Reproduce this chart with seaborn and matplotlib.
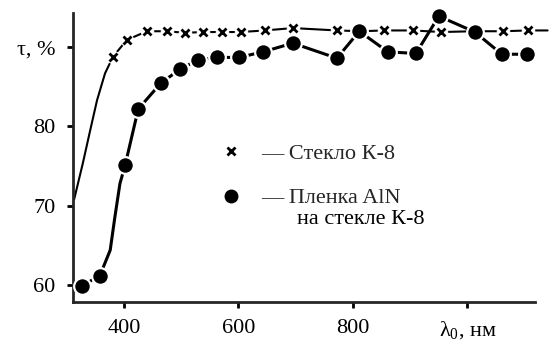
import matplotlib
matplotlib.use("Agg")
import matplotlib.pyplot as plt
from matplotlib.lines import Line2D
import seaborn as sns
import pandas as pd

# ---- data ----
glass_wl = [313, 328, 341, 353, 367, 381, 405, 440, 475, 507, 538, 571, 604, 646,
            695, 772, 814, 854, 905, 954, 1011, 1062, 1106, 1140]
glass_t = [70.8, 75.3, 79.5, 83.3, 86.7, 88.8, 90.9, 92.0, 92.0, 91.8, 91.9, 91.9, 91.9, 92.1,
           92.4, 92.1, 92.0, 92.1, 92.1, 91.9, 92.0, 92.0, 92.1, 92.1]
glass_marks = list(range(5, 23))

aln_wl = [327, 358, 376, 384, 393, 402, 425, 465, 498, 529, 562, 601, 643, 695,
          772, 811, 861, 910, 950, 1013, 1060, 1104]
aln_t = [59.9, 61.2, 64.4, 68.5, 72.8, 75.1, 82.2, 85.5, 87.2, 88.4, 88.7, 88.7, 89.4, 90.5,
         88.6, 92.0, 89.4, 89.2, 93.9, 91.9, 89.1, 89.1]
aln_marks = [0, 1] + list(range(5, 22))

x_ticks = [400, 600, 800, 1000]
x_ticklabels = ["400", "600", "800", "$\\mathregular{λ_0}$, нм"]
y_ticks = [60, 70, 80, 90]
y_ticklabels = ["60", "70", "80", "τ, %"]

label_glass = "— Стекло К-8"
label_aln = "— Пленка AlN"
label_aln_cont = "на стекле К-8"

# ---- style ----
sns.set_style("ticks")
plt.rcParams["font.family"] = ["Liberation Serif", "DejaVu Serif"]
plt.rcParams["mathtext.fontset"] = "custom"
plt.rcParams["mathtext.rm"] = "Liberation Serif"

fig = plt.figure(figsize=(5.5, 3.44), dpi=100)
ax = fig.add_axes([73 / 550, 42 / 344, 462 / 550, 289 / 344])

gdf = pd.DataFrame({"wl": glass_wl, "t": glass_t})
adf = pd.DataFrame({"wl": aln_wl, "t": aln_t})

# glass curve
sns.lineplot(data=gdf, x="wl", y="t", ax=ax, color="black", lw=1.5,
             sort=False, estimator=None, clip_on=False, zorder=2)
sns.lineplot(data=gdf, x="wl", y="t", ax=ax, color="white", lw=0, marker="o",
             markevery=glass_marks, ms=9, mec="white", mfc="white",
             sort=False, estimator=None, clip_on=False, zorder=3)
sns.lineplot(data=gdf, x="wl", y="t", ax=ax, color="black", lw=0, marker="x",
             markevery=glass_marks, ms=6, mew=2.0, mec="black",
             sort=False, estimator=None, clip_on=False, zorder=4)

# AlN film curve
sns.lineplot(data=adf, x="wl", y="t", ax=ax, color="black", lw=2.2, marker="o",
             markevery=aln_marks, ms=12, mfc="black", mec="white", mew=1.6,
             sort=False, estimator=None, clip_on=False, zorder=5)

ax.set_xlim(311, 1118)
ax.set_ylim(57.86, 94.3)
ax.set_xticks(x_ticks)
ax.set_xticklabels(x_ticklabels)
ax.set_yticks(y_ticks)
ax.set_yticklabels(y_ticklabels)
ax.set_xlabel("")
ax.set_ylabel("")

for s in ["top", "right"]:
    ax.spines[s].set_visible(False)
for s in ["left", "bottom"]:
    ax.spines[s].set_linewidth(2.0)
ax.tick_params(axis="both", direction="out", length=4.5, width=2.0,
               labelsize=16, pad=8, colors="black")

handles = [
    Line2D([], [], ls="", marker="x", ms=5.5, mew=2.0, color="black"),
    Line2D([], [], ls="", marker="o", ms=9, color="black"),
]
leg = ax.legend(handles, [label_glass, label_aln], loc="upper left",
                bbox_to_anchor=((222 - 73) / 462, (302 - 143) / 289),
                frameon=False, fontsize=16, handlelength=0.8, handletextpad=0.95,
                labelspacing=1.09, borderpad=0, borderaxespad=0)
ax.text((297 - 73) / 462, (302 - 220) / 289, label_aln_cont, transform=ax.transAxes,
        ha="left", va="center", fontsize=16, color="black")

fig.savefig("out.png", dpi=100, facecolor="white")
